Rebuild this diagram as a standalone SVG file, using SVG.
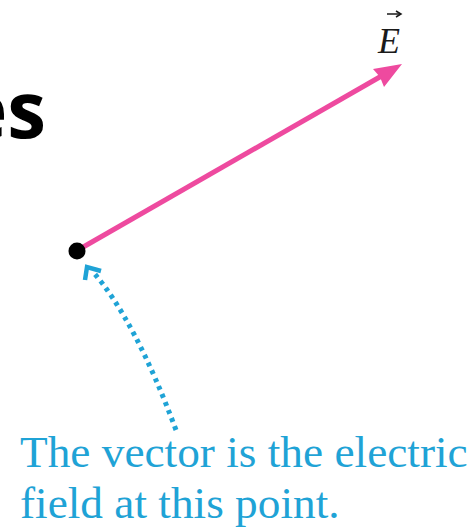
<svg xmlns="http://www.w3.org/2000/svg" width="471" height="531" viewBox="0 0 471 531">
<style>
.title{font-family:"Open Sans","Noto Sans",sans-serif;font-weight:bold;font-size:78px;fill:#000}
.note{font-family:"Liberation Serif","Times New Roman",serif;font-size:45.3px;fill:#1fa3d6}
.lbl{font-family:"Liberation Serif","Times New Roman",serif;font-style:italic;font-size:36px;fill:#1a1a1a}
.vec{stroke:#ee4a9f;stroke-width:5;fill:none}
.dots{stroke:#1fa3d6;stroke-width:5;fill:none;stroke-dasharray:4 4.6}
</style>
<rect width="471" height="531" fill="#fff"/>
<text class="title" x="46" y="138" text-anchor="end">es</text>
<g id="connectors">
<line class="vec" x1="78" y1="250" x2="385" y2="74"/>
<path d="M402,64 L373,69 L380,77 L384,87 Z" fill="#ee4a9f"/>
<path class="dots" d="M176,430 Q135,320 93,272"/>
<path d="M85,280 L87,267 L101,271" fill="none" stroke="#1fa3d6" stroke-width="4.5" stroke-linejoin="miter"/>
</g>
<g id="point">
<circle cx="77" cy="251" r="8.5" fill="#000"/>
</g>
<g id="label-E">
<text class="lbl" x="378" y="53">E</text>
<line x1="387" y1="14" x2="400" y2="14" stroke="#1a1a1a" stroke-width="1.5"/>
<path d="M396,11 L401,14 L396,17" fill="none" stroke="#1a1a1a" stroke-width="1.5"/>
</g>
<g id="note">
<text class="note" x="20" y="467">The vector is the electric</text>
<text class="note" x="20" y="518">field at this point.</text>
</g>
</svg>
